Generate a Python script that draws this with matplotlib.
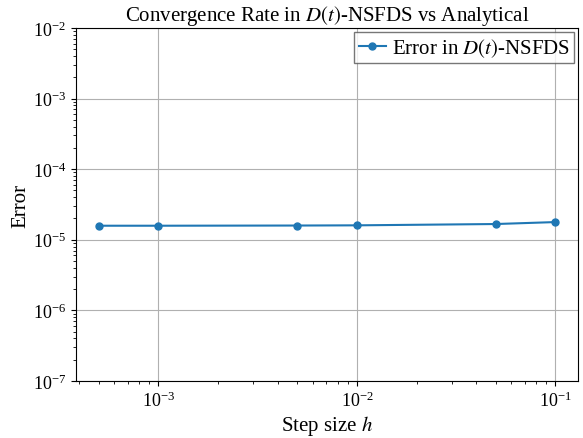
import numpy as np
import matplotlib.pyplot as plt

plt.rcParams['font.family'] = ['Liberation Serif', 'DejaVu Serif']
plt.rcParams['mathtext.fontset'] = 'stix'

h = [5e-4, 1e-3, 5e-3, 1e-2, 5e-2, 1e-1]
err = [1.58e-5, 1.58e-5, 1.59e-5, 1.60e-5, 1.67e-5, 1.78e-5]

fig, ax = plt.subplots(figsize=(5.83, 4.39), dpi=100)
fig.subplots_adjust(left=0.13, right=0.992, top=0.934, bottom=0.13)

ax.loglog(h, err, marker='o', markersize=5, color='#1f77b4', label=r'Error in $D(t)$-NSFDS')
ax.set_ylim(1e-7, 1e-2)
ax.set_xlabel(r'Step size $h$', fontsize=15, labelpad=2)
ax.set_ylabel('Error', fontsize=15, labelpad=2)
ax.set_title(r'Convergence Rate in $D(t)$-NSFDS vs Analytical', fontsize=15)
ax.tick_params(labelsize=13)
ax.grid(True, which='major', color='#b0b0b0', linewidth=0.8)
ax.legend(loc='upper right', fontsize=15, fancybox=False, edgecolor='#555555',
          borderpad=0.2, handlelength=1.3, handletextpad=0.3, borderaxespad=0.2)

fig.savefig('out.png', dpi=100)
